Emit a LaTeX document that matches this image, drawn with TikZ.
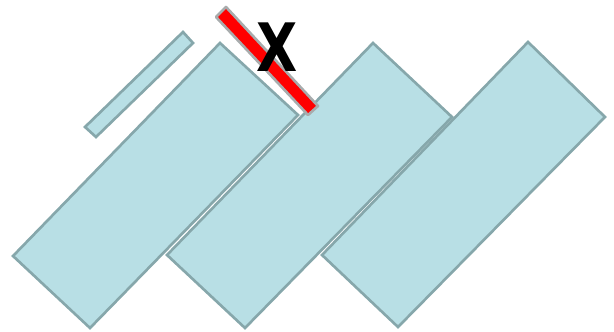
\documentclass[tikz,border=0pt]{standalone}
\usepackage{fontspec}
\setmainfont{DejaVu Sans}
\usepackage{xcolor}
\usepackage{tikz}
\definecolor{plankfill}{HTML}{B8DFE5}
\definecolor{plankedge}{HTML}{86A7AB}
\definecolor{cutedge}{HTML}{A8ACAD}

\begin{document}
\begin{tikzpicture}[x=0.02cm,y=-0.02cm,
  plank/.style={fill=plankfill,draw=plankedge,line width=1.5pt,line join=miter},
  cutstrip/.style={fill=red,draw=cutedge,line width=1.5pt,line join=round}]
\useasboundingbox (0,0) rectangle (614,331);
\draw[plank] (183,32) -- (193,43) -- (96,137) -- (85,127) -- cycle;
\draw[plank] (528,42) -- (605,117) -- (398,327) -- (322,255) -- cycle;
\draw[plank] (373,43) -- (452,117) -- (245,328) -- (167,255) -- cycle;
\draw[plank] (220,43) -- (298,115) -- (90,328) -- (13,256) -- cycle;
\draw[cutstrip] (216,17) -- (226,7) -- (318,106) -- (308,115) -- cycle;
\node[font=\bfseries\fontsize{38}{38}\selectfont,xscale=0.8,inner sep=0pt] (mark) at (277,47) {X};
\end{tikzpicture}
\end{document}
